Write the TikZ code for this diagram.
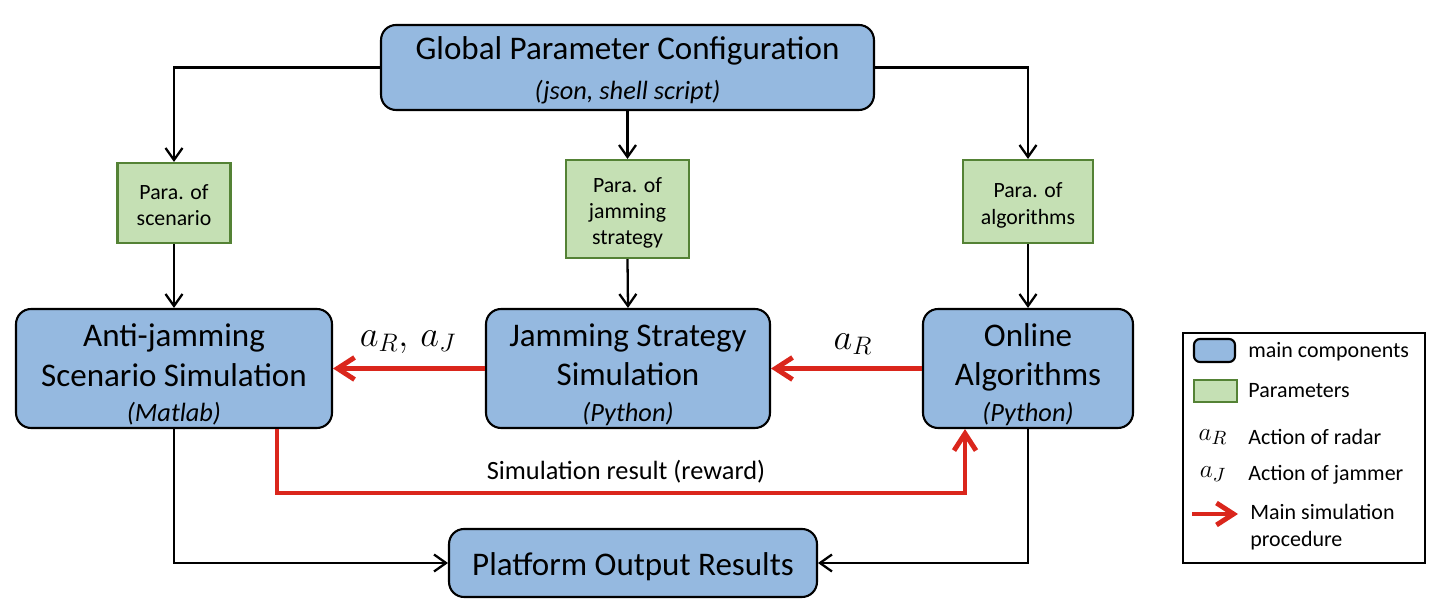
\documentclass[tikz,border=0pt]{standalone}
\usepackage{fontspec}
\setmainfont{Carlito}
\usetikzlibrary{arrows.meta}

\definecolor{mainblue}{RGB}{149,185,224}
\definecolor{paralight}{RGB}{197,224,180}
\definecolor{paraedge}{RGB}{84,130,53}
\definecolor{simred}{RGB}{218,38,28}

\newcommand{\subtxt}[1]{{\fontsize{15}{18}\selectfont\itshape #1}}
\newcommand{\topstrut}[1]{\rule{0pt}{#1}}

\tikzset{
    mainbox/.style={draw=black, line width=1.2pt, fill=mainblue, rounded corners=0.3cm,
        align=center, inner sep=0pt, font=\fontsize{18.8}{22.5}\selectfont},
    parabox/.style={draw=paraedge, line width=1.2pt, fill=paralight,
        align=center, inner sep=0pt, font=\fontsize{12.4}{15}\selectfont},
    blackarrow/.style={line width=1.3pt, -{Straight Barb[length=2.4mm, width=3.4mm]}},
    redarrow/.style={draw=simred, line width=2.8pt, -{Straight Barb[length=3.4mm, width=4.4mm]}},
    legendtext/.style={anchor=west, inner sep=0pt, align=left, font=\fontsize{12.5}{15}\selectfont},
}

\begin{document}
\begin{tikzpicture}[x=0.02cm, y=-0.02cm]
\useasboundingbox (0,0) rectangle (1441,607);

% Global configuration
\node[mainbox, minimum width=9.86cm, minimum height=1.7cm] (global) at (627.5,67.5)
    {\topstrut{16pt}Global Parameter Configuration\\\subtxt{(json, shell script)}};

% Parameters
\node[parabox, minimum width=2.26cm, minimum height=1.6cm] (parascen) at (174,203)
    {\topstrut{11pt}Para. of\\scenario};
\node[parabox, minimum width=2.46cm, minimum height=1.96cm] (parajam) at (627.5,209)
    {\topstrut{13pt}Para. of\\jamming\\strategy};
\node[parabox, minimum width=2.6cm, minimum height=1.66cm] (paraalg) at (1028,201.5)
    {\topstrut{13pt}Para. of\\algorithms};

% Main components
\node[mainbox, minimum width=6.32cm, minimum height=2.38cm] (antijam) at (174,368.5)
    {\topstrut{20pt}Anti-jamming\\Scenario Simulation\\[-2.3pt]\subtxt{(Matlab)}};
\node[mainbox, minimum width=5.68cm, minimum height=2.38cm] (jamsim) at (628,368.5)
    {\topstrut{20pt}Jamming Strategy\\Simulation\\[-2.3pt]\subtxt{(Python)}};
\node[mainbox, minimum width=4.2cm, minimum height=2.38cm] (online) at (1028,368.5)
    {\topstrut{20pt}Online\\Algorithms\\[-2.3pt]\subtxt{(Python)}};
\node[mainbox, minimum width=7.36cm, minimum height=1.36cm] (output) at (633,563)
    {\topstrut{17pt}Platform Output Results};

% Parameter flow
\draw[blackarrow] (global.west) -| (parascen.north);
\draw[blackarrow] (global.south) -- (parajam.north);
\draw[blackarrow] (global.east) -| (paraalg.north);
\draw[blackarrow] (parascen.south) -- (antijam.north);
\draw[blackarrow] (parajam.south) -- (jamsim.north);
\draw[blackarrow] (paraalg.south) -- (online.north);

% Main simulation procedure
\draw[redarrow] (jamsim.west) -- (antijam.east);
\draw[redarrow] (online.west) -- (jamsim.east);
\draw[redarrow] ([xshift=2.06cm]antijam.south) -- ++(0,64) -| ([xshift=-1.26cm]online.south);
\node[font=\fontsize{20}{22}\selectfont] (actboth) at (408,342) {$a_R,\, a_J$};
\node[font=\fontsize{20}{22}\selectfont] (actradar) at (853,344) {$a_R$};
\node[font=\fontsize{15}{18}\selectfont] (reward) at (626,472) {Simulation result (reward)};

% Results
\draw[blackarrow] (antijam.south) |- (output.west);
\draw[blackarrow] (online.south) |- (output.east);

% Legend
\node[draw=black, line width=1.2pt, minimum width=4.84cm, minimum height=4.6cm] (legend) at (1304,448) {};
\node[draw=black, line width=1.2pt, fill=mainblue, rounded corners=0.12cm,
    minimum width=0.82cm, minimum height=0.46cm] (keymain) at (1214.5,350.5) {};
\node[legendtext] (keymaintext) at (1248,352) {main components};
\node[draw=paraedge, line width=1.2pt, fill=paralight,
    minimum width=0.86cm, minimum height=0.44cm] (keypara) at (1215.5,391) {};
\node[legendtext] (keyparatext) at (1248,391) {Parameters};
\node[font=\fontsize{15}{17}\selectfont] (keyradar) at (1213,437) {$a_R$};
\node[legendtext] (keyradartext) at (1248,437) {Action of radar};
\node[font=\fontsize{15}{17}\selectfont] (keyjam) at (1213,474) {$a_J$};
\node[legendtext] (keyjamtext) at (1248,475) {Action of jammer};
\coordinate (keyredstart) at (1192,514);
\coordinate (keyredend) at (1238,514);
\draw[redarrow] (keyredstart) -- (keyredend);
\node[legendtext] (keyredtext) at (1250,527) {Main simulation\\procedure};

\end{tikzpicture}
\end{document}
